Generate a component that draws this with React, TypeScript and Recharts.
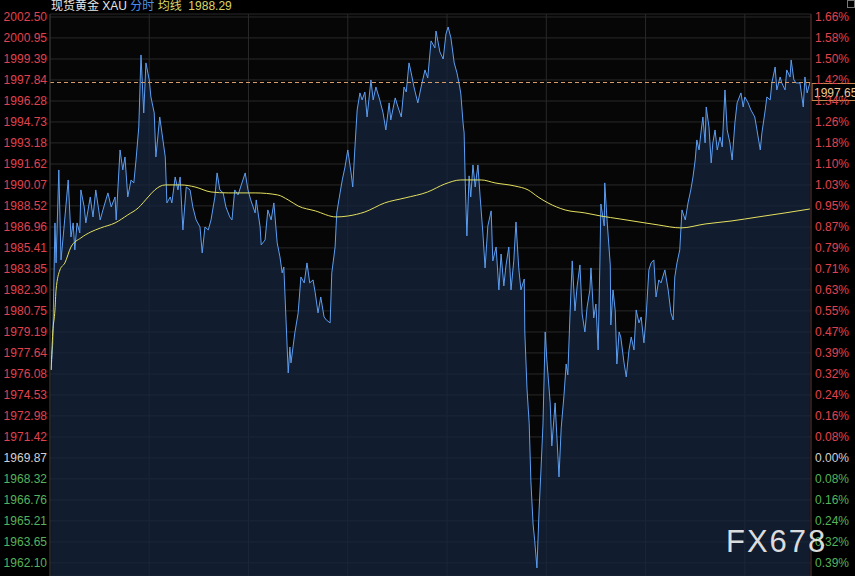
import React from 'react';
import { ComposedChart, Area, Line, XAxis, YAxis, CartesianGrid, ReferenceLine } from 'recharts';

// minutes since session open (06:00)
const minutes = [
  2,5,9,11,16,20,25,33,38,42,
  45,49,54,56,62,65,73,78,83,91,
  96,105,111,118,120,127,132,136,141,147,
  152,156,161,165,170,174,180,183,189,192,
  199,203,209,212,218,221,227,232,236,241,
  247,254,259,265,272,276,281,287,292,299,
  303,308,314,319,326,330,335,341,354,359,
  364,372,374,381,383,390,395,401,406,412,
  417,421,424,428,432,435,437,444,450,455,
  461,466,471,477,481,486,491,497,501,508,
  511,517,520,526,530,535,540,546,549,553,
  557,562,566,571,575,582,586,591,598,604,
  609,615,618,626,631,637,642,646,651,655,
  660,667,673,680,685,691,698,700,707,713,
  718,722,727,733,738,743,745,749,751,753,
  756,760,763,767,771,776,780,785,789,794,
  800,803,809,814,818,823,827,832,836,841,
  845,850,854,860,861,865,869,872,876,879,
  883,887,890,894,898,901,907,910,916,918,
  923,927,932,936,939,943,947,952,956,961,
  965,970,974,979,981,986,990,994,997,999,
  1005,1006,1010,1016,1017,1021,1025,1028,1032,1035,
  1041,1045,1050,1054,1059,1063,1068,1072,1077,1081,
  1086,1090,1095,1099,1104,1108,1115,1121,1126,1130,
  1133,1137,1142,1146,1152,1157,1162,1166,1170,1173,
  1177,1181,1184,1188,1190,1195,1199,1202,1206,1210,
  1215,1219,1224,1228,1233,1237,1242,1246,1253,1257,
  1260,1266,1271,1278,1282,1288,1291,1297,1300,1306,
  1309,1315,1318,1324,1327,1333,1336,1342,1344,1349,
  1353,1360,1366,1369,1373,1378,
];

const prices = [
  1976.38,1978.38,1987.26,1984.30,1991.18,1984.52,1986.74,1990.44,1986.22,1987.26,
  1985.26,1987.26,1986.52,1989.70,1988.44,1987.26,1989.18,1987.70,1989.70,1987.48,
  1988.22,1989.48,1988.44,1989.18,1987.48,1992.66,1991.18,1992.14,1989.18,1990.44,
  1990.22,1991.92,1994.36,1999.69,1995.40,1999.10,1997.84,1996.58,1995.40,1992.14,
  1995.10,1993.92,1992.14,1988.74,1989.18,1988.74,1990.66,1989.70,1990.66,1986.74,
  1989.92,1989.70,1988.44,1987.48,1986.96,1985.04,1986.96,1986.74,1987.48,1989.18,
  1990.96,1989.70,1989.48,1988.44,1987.70,1987.48,1989.70,1989.33,1990.96,1989.70,
  1988.96,1988.00,1988.96,1986.96,1985.63,1986.00,1988.22,1987.48,1988.74,1985.78,
  1984.74,1983.56,1984.00,1980.08,1976.16,1978.08,1976.90,1979.12,1980.60,1983.26,
  1982.82,1984.30,1982.82,1983.04,1982.08,1980.60,1981.78,1980.30,1980.08,1979.86,
  1983.56,1985.48,1988.00,1989.48,1990.44,1991.40,1992.66,1990.96,1989.92,1992.88,
  1995.62,1996.88,1996.36,1996.95,1995.10,1997.84,1996.36,1997.32,1996.36,1995.40,
  1994.14,1996.14,1994.88,1996.51,1995.84,1995.10,1997.32,1996.95,1999.10,1998.36,
  1997.32,1996.14,1997.32,1998.58,1997.99,2000.73,2000.21,2001.46,1999.91,1999.39,
  2001.24,2001.76,2000.95,1999.10,1998.36,1997.32,1996.80,1994.66,1993.92,1990.22,
  1986.30,1990.74,1989.18,1991.55,1989.92,1991.55,1989.18,1986.52,1983.93,1987.04,
  1988.15,1984.45,1985.48,1982.30,1984.96,1982.60,1984.15,1985.48,1982.30,1984.45,
  1987.33,1983.93,1982.30,1983.11,1979.19,1974.97,1972.38,1968.17,1964.98,1963.73,
  1961.73,1966.09,1968.68,1972.38,1979.19,1977.12,1973.94,1970.76,1973.94,1972.38,
  1968.46,1972.09,1974.46,1976.82,1976.01,1980.52,1984.45,1980.75,1982.60,1984.15,
  1980.52,1979.19,1981.04,1982.30,1983.93,1980.23,1981.26,1977.86,1983.93,1988.66,
  1987.04,1990.22,1987.55,1984.15,1979.71,1982.30,1980.75,1976.82,1979.19,1978.82,
  1976.90,1975.86,1977.86,1978.82,1977.86,1980.82,1979.86,1980.30,1978.38,1980.30,
  1983.78,1984.30,1984.52,1981.78,1983.04,1982.82,1983.78,1982.30,1980.60,1980.08,
  1983.26,1984.30,1985.26,1988.22,1987.48,1988.74,1989.70,1990.66,1991.92,1993.40,
  1992.66,1994.14,1995.10,1993.18,1995.84,1994.36,1991.70,1993.18,1994.14,1992.66,
  1993.62,1992.88,1997.10,1994.14,1993.18,1991.92,1994.66,1996.14,1996.88,1995.84,
  1996.58,1996.14,1995.62,1995.10,1994.14,1992.66,1993.92,1995.62,1996.58,1996.36,
  1997.62,1998.80,1997.10,1998.06,1997.62,1997.10,1998.58,1998.06,1999.32,1997.84,
  1997.62,1997.62,1995.84,1998.06,1996.88,1997.65,
];

const avgMinutes = [
  2,5,9,11,18,27,38,56,74,92,118,141,160,178,190,209,238,263,292,323,
  372,413,432,450,481,519,540,571,607,644,685,716,745,782,807,843,867,885,903,934,
  970,999,1034,1079,1103,1144,1188,1235,1284,1333,1378,
];
const avgPrices = [
  1976.38,1979.12,1980.82,1982.30,1983.78,1984.30,1985.48,1986.15,1986.59,1986.89,
  1987.26,1987.85,1988.37,1989.18,1989.70,1990.07,1990.07,1989.92,1989.55,1989.48,
  1989.48,1989.33,1988.96,1988.51,1988.15,1987.70,1987.77,1988.07,1988.74,1989.11,
  1989.55,1990.14,1990.44,1990.44,1990.22,1989.99,1989.70,1989.18,1988.74,1988.22,
  1988.00,1987.77,1987.55,1987.26,1987.11,1986.89,1987.18,1987.40,1987.70,1988.00,
  1988.29,
];

const priceTicks = [
  2002.50, 2000.95, 1999.39, 1997.84, 1996.28, 1994.73, 1993.18, 1991.62, 1990.07,
  1988.52, 1986.96, 1985.41, 1983.85, 1982.30, 1980.75, 1979.19, 1977.64, 1976.08,
  1974.53, 1972.98, 1971.42, 1969.87, 1968.32, 1966.76, 1965.21, 1963.65, 1962.10,
];
const pctLabels = [
  '1.66%', '1.58%', '1.50%', '1.42%', '1.34%', '1.26%', '1.18%', '1.10%', '1.03%',
  '0.95%', '0.87%', '0.79%', '0.71%', '0.63%', '0.55%', '0.47%', '0.39%', '0.32%',
  '0.24%', '0.16%', '0.08%', '0.00%', '0.08%', '0.16%', '0.24%', '0.32%', '0.39%',
];
const timeTicks = [0, 180, 360, 540, 720, 900, 1080, 1260];
const prevClose = 1969.87;
const lastPrice = 1997.65;
const lastAvg = 1988.29;

const priceData = minutes.map((t, i) => ({ t, price: prices[i] }));
const avgData = avgMinutes.map((t, i) => ({ t, avg: avgPrices[i] }));

const FONT = "'Liberation Sans', Arial, 'Noto Sans CJK SC', sans-serif";
const RED = '#e0434f';
const GREEN = '#55b35c';
const NEUTRAL = '#d2d2d2';

const colorFor = (v: number) =>
  Math.abs(v - prevClose) < 0.001 ? NEUTRAL : v > prevClose ? RED : GREEN;

const LeftTick = (props: any) => {
  const { x, y, payload } = props;
  const v = payload.value as number;
  return (
    <text x={x} y={y} dy={4} textAnchor="end" fill={colorFor(v)} fontSize={12} fontFamily={FONT}>
      {v.toFixed(2)}
    </text>
  );
};

const RightTick = (props: any) => {
  const { x, y, payload } = props;
  const v = payload.value as number;
  const idx = priceTicks.indexOf(v);
  return (
    <text x={x} y={y} dy={4} textAnchor="start" fill={colorFor(v)} fontSize={12} fontFamily={FONT}>
      {pctLabels[idx]}
    </text>
  );
};

const PriceTag = (props: any) => {
  const vb = props.viewBox || {};
  const right = (vb.x || 0) + (vb.width || 0);
  const y = vb.y || 0;
  return (
    <g>
      <rect x={right + 1} y={y + 1} width={46} height={17} fill="#000" stroke="#c98a4f" strokeWidth={1} />
      <text x={right + 3} y={y + 14} fill="#f2c896" fontSize={12} fontFamily={FONT}>
        {lastPrice.toFixed(2)}
      </text>
    </g>
  );
};

export default function App() {
  return (
    <div style={{ position: 'absolute', left: 0, top: 0, width: 855, height: 576, background: '#000', overflow: 'hidden' }}>
      <ComposedChart width={855} height={576} margin={{ top: 14, right: 0, bottom: 0, left: 0 }}>
        <CartesianGrid stroke="#292929" strokeWidth={1} fill="#060606" />
        <XAxis type="number" dataKey="t" domain={[0, 1380]} ticks={timeTicks} hide allowDataOverflow />
        <YAxis
          domain={[1961.13, 2002.72]}
          ticks={priceTicks}
          interval={0}
          width={50}
          tickLine={false}
          tickSize={0}
          tickMargin={3}
          axisLine={{ stroke: '#333' }}
          tick={<LeftTick />}
          allowDataOverflow
        />
        <YAxis
          yAxisId="right"
          orientation="right"
          domain={[1961.13, 2002.72]}
          ticks={priceTicks}
          interval={0}
          width={44}
          tickLine={false}
          tickSize={0}
          tickMargin={4}
          axisLine={{ stroke: '#4a2424' }}
          tick={<RightTick />}
          allowDataOverflow
        />
        <Area
          data={priceData}
          dataKey="price"
          type="linear"
          stroke="#5c9ef2"
          strokeWidth={1}
          fill="#16243d"
          fillOpacity={0.75}
          isAnimationActive={false}
          dot={false}
          activeDot={false}
        />
        <Line
          data={avgData}
          dataKey="avg"
          type="monotone"
          stroke="#e4e05e"
          strokeWidth={1}
          dot={false}
          activeDot={false}
          isAnimationActive={false}
        />
        <Line
          yAxisId="right"
          data={avgData}
          dataKey="avg"
          stroke="none"
          dot={false}
          activeDot={false}
          isAnimationActive={false}
          legendType="none"
        />
        <ReferenceLine y={lastPrice} stroke="#d89b6a" strokeDasharray="4 3" label={<PriceTag />} />
      </ComposedChart>

      <div style={{ position: 'absolute', left: 51, top: 0, fontFamily: FONT, fontSize: 12, lineHeight: '12px', whiteSpace: 'pre', color: '#e6e6e6' }}>
        <span>现货黄金 XAU </span>
        <span style={{ color: '#4d90e6' }}>分时 </span>
        <span style={{ color: '#dcd566' }}>均线  {lastAvg.toFixed(2)}</span>
      </div>

      <div style={{ position: 'absolute', right: 0, top: 0, width: 8, height: 8, border: '1px solid #777', boxSizing: 'border-box' }} />

      <div style={{ position: 'absolute', left: 726, top: 526, fontFamily: FONT, fontSize: 31, lineHeight: '31px', letterSpacing: 2, color: 'rgba(240,240,240,0.92)' }}>
        FX678
      </div>
    </div>
  );
}
